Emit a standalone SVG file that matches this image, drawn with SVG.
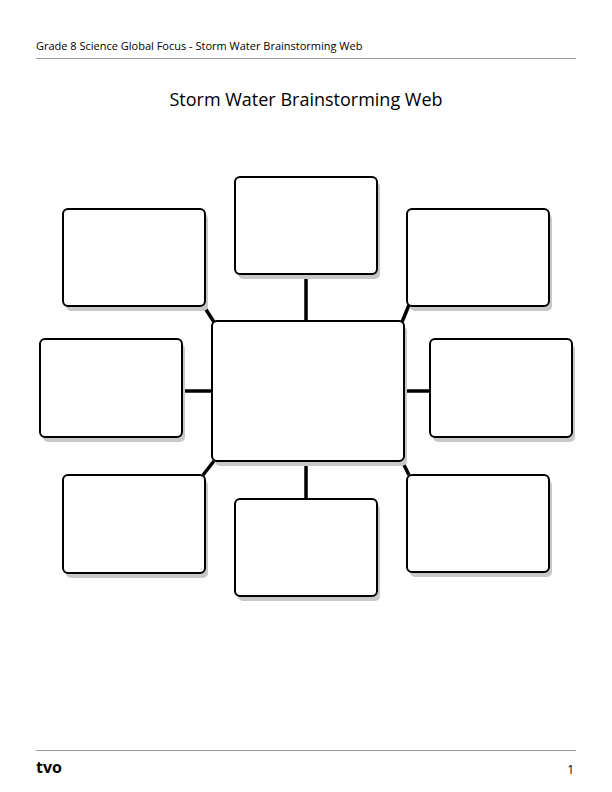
<svg xmlns="http://www.w3.org/2000/svg" width="612" height="792" viewBox="0 0 612 792">
<style>
.sh{fill:#c8c8c8}
.bx{fill:#fff;stroke:#000;stroke-width:2}
.c{stroke:#000;stroke-width:3.5;fill:none}
text{font-family:"Open Sans","Liberation Sans",sans-serif;fill:#000}
</style>
<rect width="612" height="792" fill="#fff"/>
<text x="36" y="50" font-size="11">Grade 8 Science Global Focus - Storm Water Brainstorming Web</text>
<line x1="36" y1="58.5" x2="576" y2="58.5" stroke="#999" stroke-width="1.2"/>
<text x="306" y="106" font-size="18" text-anchor="middle">Storm Water Brainstorming Web</text>
<line x1="36" y1="750.5" x2="576" y2="750.5" stroke="#999" stroke-width="1.2"/>
<text x="36" y="773" font-size="16" font-weight="bold" font-family="Liberation Serif,serif">tvo</text>
<text x="574" y="774" font-size="12" text-anchor="end">1</text>
<g id="connectors">
<line class="c" x1="306" y1="274" x2="306" y2="322"/>
<line class="c" x1="306" y1="461" x2="306" y2="499"/>
<line class="c" x1="182" y1="391" x2="213" y2="391"/>
<line class="c" x1="404" y1="391" x2="430" y2="391"/>
<line class="c" x1="203" y1="305" x2="214" y2="322"/>
<line class="c" x1="409" y1="305" x2="402" y2="322"/>
<line class="c" x1="203" y1="475" x2="214" y2="461"/>
<line class="c" x1="409" y1="475" x2="402" y2="461"/>
</g>
<g id="top"><rect class="sh" x="238" y="182" width="142" height="97" rx="5"/><rect class="bx" x="235" y="177" width="142" height="97" rx="5"/></g>
<g id="topleft"><rect class="sh" x="66" y="214" width="142" height="97" rx="5"/><rect class="bx" x="63" y="209" width="142" height="97" rx="5"/></g>
<g id="topright"><rect class="sh" x="410" y="214" width="142" height="97" rx="5"/><rect class="bx" x="407" y="209" width="142" height="97" rx="5"/></g>
<g id="left"><rect class="sh" x="43" y="344" width="142" height="98" rx="5"/><rect class="bx" x="40" y="339" width="142" height="98" rx="5"/></g>
<g id="right"><rect class="sh" x="433" y="344" width="142" height="98" rx="5"/><rect class="bx" x="430" y="339" width="142" height="98" rx="5"/></g>
<g id="bottomleft"><rect class="sh" x="66" y="480" width="142" height="98" rx="5"/><rect class="bx" x="63" y="475" width="142" height="98" rx="5"/></g>
<g id="bottom"><rect class="sh" x="238" y="504" width="142" height="97" rx="5"/><rect class="bx" x="235" y="499" width="142" height="97" rx="5"/></g>
<g id="bottomright"><rect class="sh" x="410" y="480" width="142" height="97" rx="5"/><rect class="bx" x="407" y="475" width="142" height="97" rx="5"/></g>
<g id="center"><rect class="sh" x="215" y="326" width="192" height="140" rx="5"/><rect class="bx" x="212" y="321" width="192" height="140" rx="5"/></g>
</svg>
